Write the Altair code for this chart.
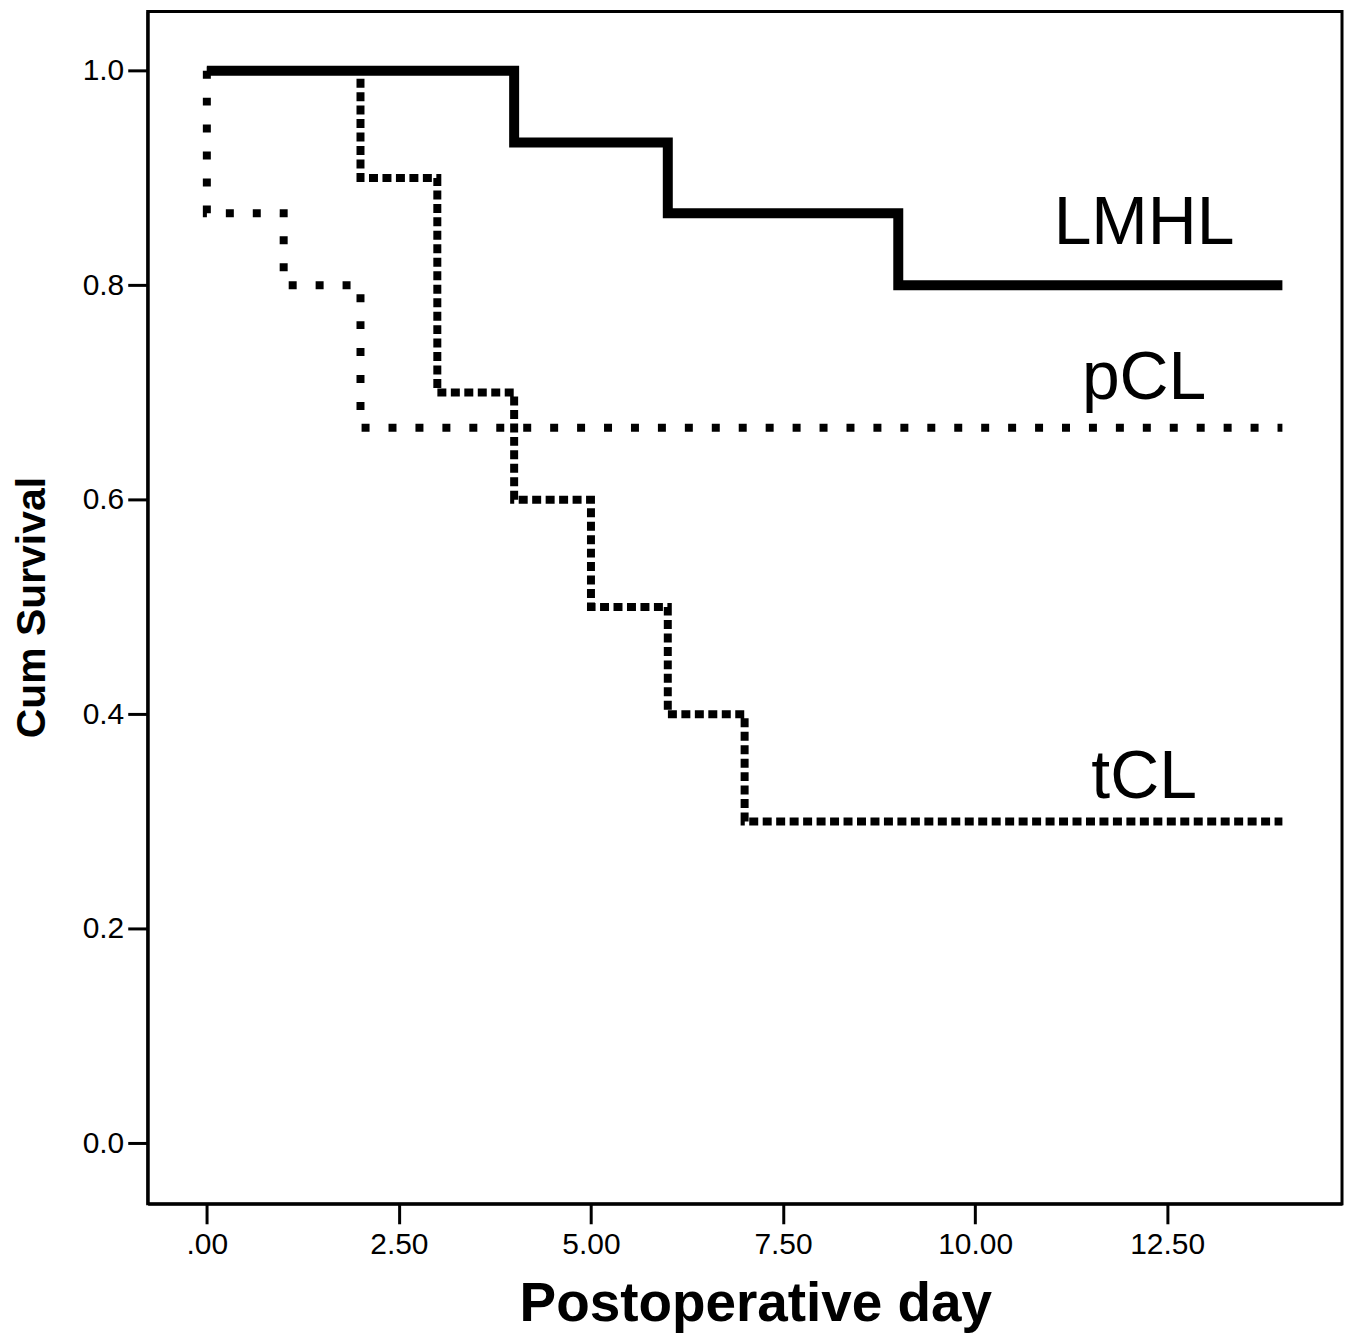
import altair as alt
import pandas as pd

# Kaplan-Meier step data
lmhl_t = [0, 4, 6, 9, 14]
lmhl_s = [1.0, 0.933, 0.867, 0.8, 0.8]
pcl_t = [0, 0, 1, 2, 14]
pcl_s = [1.0, 0.867, 0.8, 0.667, 0.667]
tcl_t = [0, 2, 3, 4, 5, 6, 7, 14]
tcl_s = [1.0, 0.9, 0.7, 0.6, 0.5, 0.4, 0.3, 0.3]

groups = ["LMHL", "pCL", "tCL"]
label_x = [12.2, 12.2, 12.2]
label_y = [0.838, 0.694, 0.322]

x_ticks = [0, 2.5, 5, 7.5, 10, 12.5]
y_ticks = [0.0, 0.2, 0.4, 0.6, 0.8, 1.0]

rows = []
for g, ts, ss in [("LMHL", lmhl_t, lmhl_s), ("pCL", pcl_t, pcl_s), ("tCL", tcl_t, tcl_s)]:
    for i, (t, s) in enumerate(zip(ts, ss)):
        rows.append({"group": g, "time": t, "surv": s, "idx": i})
df = pd.DataFrame(rows)
labels = pd.DataFrame({"group": groups, "x": label_x, "y": label_y})

FONT = "Liberation Sans"

xscale = alt.Scale(domain=[-0.77, 14.776], nice=False, zero=False)
yscale = alt.Scale(domain=[-0.0566, 1.0552], nice=False, zero=False)

xenc = alt.X(
    "time:Q",
    scale=xscale,
    axis=alt.Axis(
        values=x_ticks,
        labelExpr="datum.value == 0 ? '.00' : format(datum.value, '.2f')",
        title="Postoperative day",
        titleFontSize=55,
        titleFontWeight="bold",
        titleX=609,
        titleY=117,
        titleBaseline="alphabetic",
        titleAlign="center",
        labelPadding=6,
        grid=False,
    ),
)
yenc = alt.Y(
    "surv:Q",
    scale=yscale,
    axis=alt.Axis(
        values=y_ticks,
        format=".1f",
        title="Cum Survival",
        titleFontSize=41,
        titleFontWeight="bold",
        titleX=-103,
        titleY=597,
        titleAngle=270,
        titleBaseline="alphabetic",
        titleAlign="center",
        labelPadding=4,
        grid=False,
    ),
)

base = alt.Chart(df)

lmhl = base.transform_filter(alt.datum.group == "LMHL").mark_line(
    interpolate="step-after", color="black", strokeWidth=10, strokeJoin="miter"
).encode(x=xenc, y=yenc, order="idx:Q")

tcl = base.transform_filter(alt.datum.group == "tCL").mark_line(
    interpolate="step-after", color="black", strokeWidth=8, strokeDash=[9, 4.5]
).encode(x="time:Q", y="surv:Q", order="idx:Q")

pcl = base.transform_filter(alt.datum.group == "pCL").mark_line(
    interpolate="step-after", color="black", strokeWidth=8, strokeDash=[8, 19]
).encode(x="time:Q", y="surv:Q", order="idx:Q")

text = alt.Chart(labels).mark_text(
    font=FONT, fontSize=68, color="black", align="center", baseline="alphabetic"
).encode(x="x:Q", y="y:Q", text="group:N")

chart = (
    alt.layer(lmhl, tcl, pcl, text)
    .properties(
        width=1197,
        height=1195,
        autosize=alt.AutoSizeParams(type="none"),
        padding={"left": 140, "top": 2, "right": 5, "bottom": 140},
    )
    .configure_view(stroke="black", strokeWidth=3)
    .configure_axis(
        domainColor="black",
        domainWidth=3,
        tickColor="black",
        tickWidth=3,
        tickSize=20,
        labelFont=FONT,
        labelFontSize=30,
        labelColor="black",
        titleFont=FONT,
        titleColor="black",
    )
)

chart.save("out.html", embed_options={"renderer": "svg", "actions": False})
